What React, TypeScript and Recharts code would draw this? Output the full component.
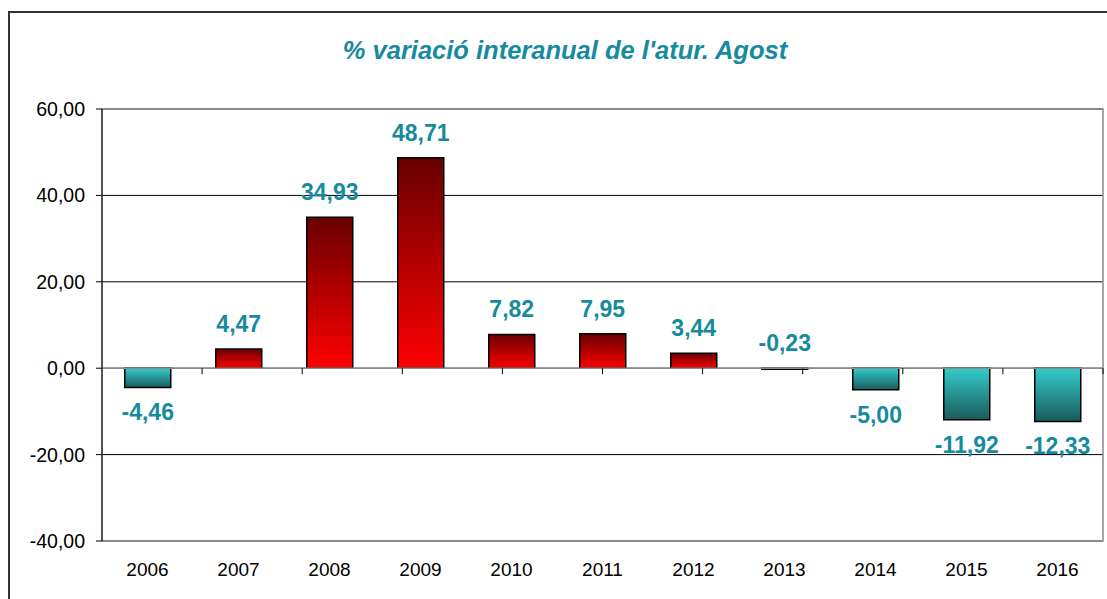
import React from 'react';
import {
  BarChart,
  Bar,
  XAxis,
  YAxis,
  CartesianGrid,
  ReferenceLine,
  ReferenceArea,
  Cell,
  LabelList,
} from 'recharts';

const years = ['2006', '2007', '2008', '2009', '2010', '2011', '2012', '2013', '2014', '2015', '2016'];
const variation = [-4.46, 4.47, 34.93, 48.71, 7.82, 7.95, 3.44, -0.23, -5.0, -11.92, -12.33];
const yTicks = [-40, -20, 0, 20, 40, 60];
const title = "% variació interanual de l'atur. Agost";

const data = years.map((year, i) => ({ year, value: variation[i] }));
const boundaries = years.slice(1).map((_, i) => i + 1);

const fmt = (v: number) => Number(v).toFixed(2).replace('.', ',');

const FONT = '"Liberation Sans", Arial, Helvetica, sans-serif';
const TEAL = '#168a9e';

const renderLabel = (props: any) => {
  const vb = props.viewBox || {};
  const x = props.x ?? vb.x;
  const y = props.y ?? vb.y;
  const width = props.width ?? vb.width;
  const height = props.height ?? vb.height;
  const value = props.value;
  const top = Math.min(y, y + height);
  const bottom = Math.max(y, y + height);
  const small = Math.abs(height) < 5;
  const cx = x + width / 2;
  const ty = value >= 0 || small ? top - 17 : bottom + 33;
  return (
    <text
      x={cx}
      y={ty}
      textAnchor="middle"
      fill={TEAL}
      fontSize={23}
      fontWeight="bold"
      fontFamily={FONT}
    >
      {fmt(value)}
    </text>
  );
};

export default function App() {
  return (
    <div
      style={{
        position: 'fixed',
        left: 0,
        top: 0,
        width: 1107,
        height: 599,
        overflow: 'hidden',
        background: '#ffffff',
      }}
    >
      <div
        style={{
          position: 'absolute',
          left: 8,
          top: 11,
          width: 1200,
          height: 700,
          border: '2px solid #333333',
          boxSizing: 'border-box',
        }}
      />
      <div
        style={{
          position: 'absolute',
          left: 0,
          top: 38,
          width: 1130,
          textAlign: 'center',
          fontFamily: FONT,
          fontSize: 25.5,
          lineHeight: '25px',
          fontWeight: 'bold',
          fontStyle: 'italic',
          color: TEAL,
          whiteSpace: 'nowrap',
        }}
      >
        {title}
      </div>
      <div style={{ position: 'absolute', left: 0, top: 0 }}>
        <BarChart
          width={1107}
          height={599}
          data={data}
          margin={{ top: 109, right: 4, bottom: 28, left: 0 }}
          barCategoryGap="25%"
        >
          <defs>
            <linearGradient id="posGrad" x1="0" y1="0" x2="0" y2="1">
              <stop offset="0%" stopColor="#680000" />
              <stop offset="100%" stopColor="#ff0000" />
            </linearGradient>
            <linearGradient id="negGrad" x1="0" y1="0" x2="0" y2="1">
              <stop offset="0%" stopColor="#33cccc" />
              <stop offset="100%" stopColor="#1a5a5a" />
            </linearGradient>
          </defs>
          <CartesianGrid vertical={false} stroke="#000000" strokeWidth={1} />
          <ReferenceArea y1={-40} y2={60} fill="none" stroke="#8c8c8c" strokeWidth={1.5} fillOpacity={0} />
          <ReferenceLine y={0} stroke="#8c8c8c" strokeWidth={1.5} />
          {boundaries.map((b) => (
            <ReferenceLine
              key={b}
              xAxisId="num"
              segment={[
                { x: b, y: 0 },
                { x: b, y: -1.4 },
              ]}
              stroke="#000000"
              strokeWidth={1}
            />
          ))}
          <XAxis
            dataKey="year"
            axisLine={false}
            tickLine={false}
            height={30}
            tickMargin={16}
            interval={0}
            tick={{ fill: '#000000', fontSize: 19, fontFamily: FONT }}
          />
          <XAxis xAxisId="num" type="number" domain={[0, years.length]} hide />
          <YAxis
            domain={[-40, 60]}
            ticks={yTicks}
            tickFormatter={fmt}
            width={102}
            tickSize={6}
            tickMargin={11}
            axisLine={{ stroke: '#000000', strokeWidth: 1 }}
            tickLine={{ stroke: '#000000' }}
            tick={{ fill: '#000000', fontSize: 19.5, fontFamily: FONT }}
            interval={0}
          />
          <Bar dataKey="value" isAnimationActive={false} stroke="#000000" strokeWidth={1.5}>
            {data.map((d, i) => (
              <Cell key={i} fill={d.value >= 0 ? 'url(#posGrad)' : 'url(#negGrad)'} />
            ))}
            <LabelList dataKey="value" content={renderLabel} />
          </Bar>
        </BarChart>
      </div>
    </div>
  );
}
